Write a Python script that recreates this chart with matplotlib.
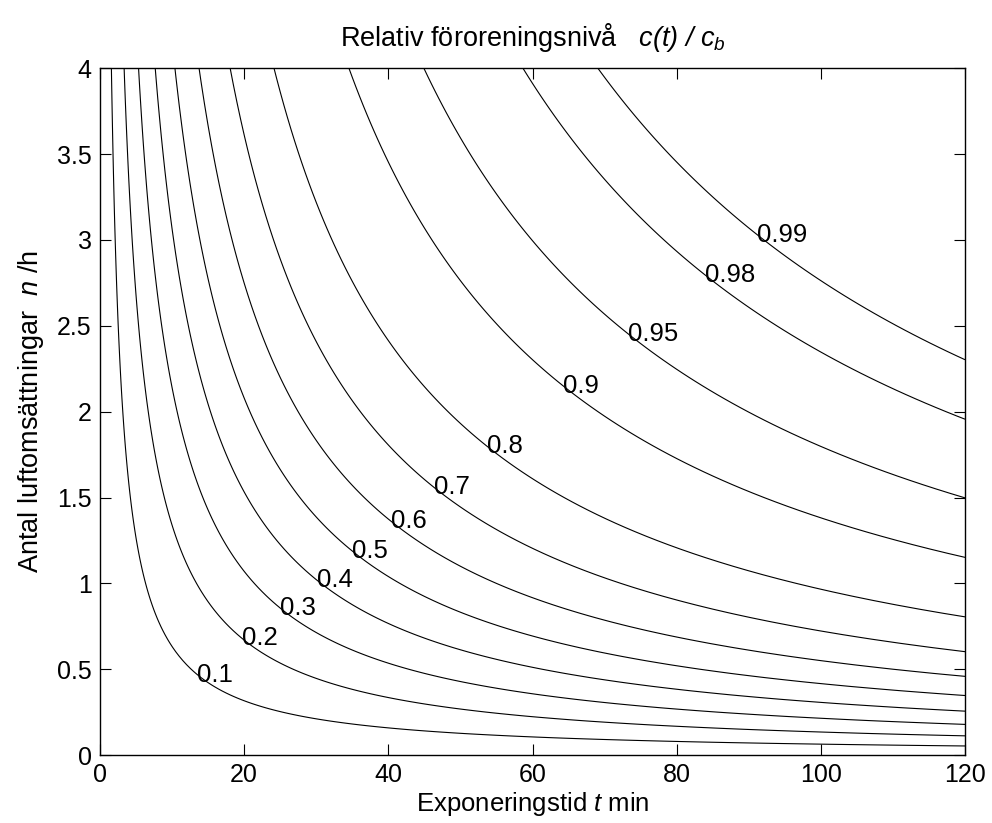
import numpy as np
import matplotlib
matplotlib.use('Agg')
import matplotlib.pyplot as plt

plt.rcParams['font.family'] = ['Liberation Sans', 'DejaVu Sans']
# every math part of the texts is italic, parentheses included
plt.rcParams['mathtext.fontset'] = 'custom'
plt.rcParams['mathtext.rm'] = 'Liberation Sans:italic'
plt.rcParams['mathtext.it'] = 'Liberation Sans:italic'

# contour levels of c(t)/c_b and where their labels start (t, n)
levels = [0.1, 0.2, 0.3, 0.4, 0.5, 0.6, 0.7, 0.8, 0.9, 0.95, 0.98, 0.99]
label_t = [13.5, 19.7, 25.0, 30.1, 35.0, 40.4, 46.3, 53.7, 64.2, 73.2, 83.9, 91.1]
label_n = [0.47, 0.68, 0.86, 1.02, 1.19, 1.36, 1.56, 1.80, 2.15, 2.45, 2.80, 3.03]

t = np.linspace(0, 120, 241)    # min
n = np.linspace(0, 4, 161)      # luftomsattningar per timme
T, N = np.meshgrid(t, n)
C = 1 - np.exp(-N * T / 60.0)

fig = plt.figure(figsize=(9.92, 8.23), dpi=100)
ax = fig.add_axes([0.1008, 0.0826, 0.872, 0.8344])

cs = ax.contour(T, N, C, levels=levels, colors='k', linewidths=0.8)
labels = ax.clabel(cs, fmt='%g', fontsize=18.5, inline=False,
                   manual=list(zip(label_t, label_n)))
for lb in labels:
    lb.set_rotation(0)
    lb.set_ha('left')
    lb.set_va('center')

ax.set_xlim(0, 120)
ax.set_ylim(0, 4)
ax.set_xticks(np.arange(0, 121, 20))
ax.set_yticks(np.arange(0, 4.01, 0.5))
ax.set_yticklabels(['0', '0.5', '1', '1.5', '2', '2.5', '3', '3.5', '4'])
ax.tick_params(direction='in', top=True, right=True, length=8, labelsize=18, pad=6)
for s in ax.spines.values():
    s.set_linewidth(1.0)

ax.set_xlabel('Exponeringstid $t$ min', fontsize=18.5, labelpad=2)
ax.set_ylabel('Antal luftomsättningar  $n$ /h', fontsize=19.5, labelpad=8)
ax.set_title('Relativ föroreningsnivå   $c(t)\\ /\\ c_b$', fontsize=19.5, pad=16)

fig.savefig('out.png', dpi=100)
